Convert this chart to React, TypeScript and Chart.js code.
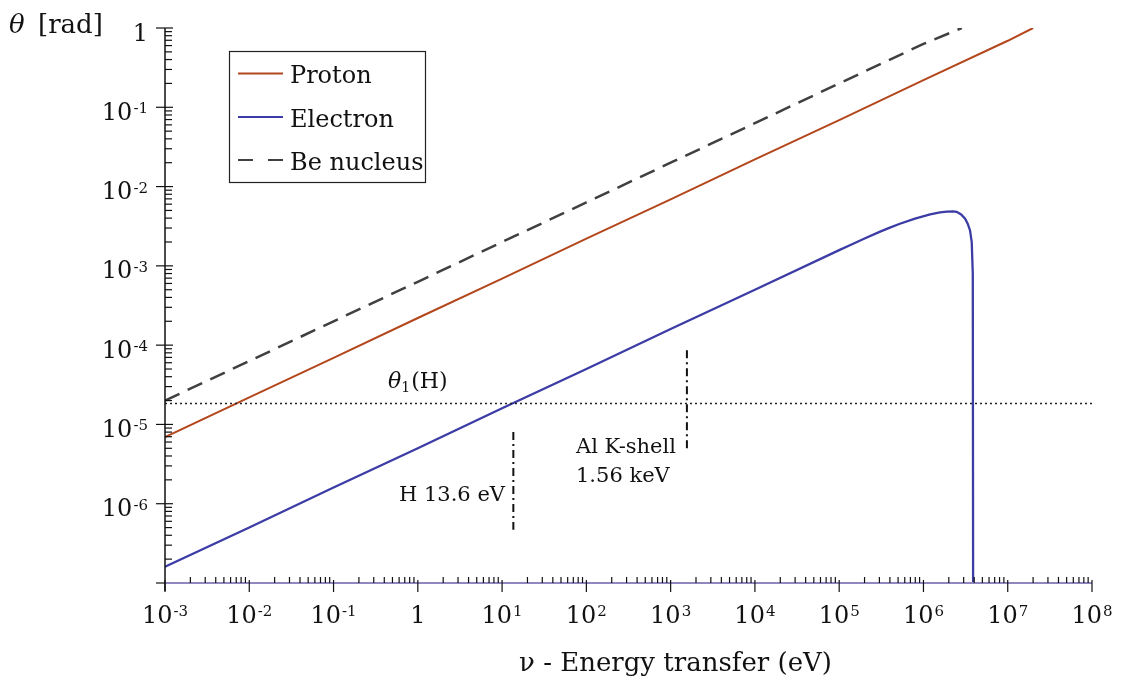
import React, { useEffect, useRef } from "react";
import { Chart, registerables } from "chart.js";

Chart.register(...registerables);

// ---- data ----
const protonX = [1e-3, 1e-2, 1e-1, 1, 10, 100, 1e3, 1e4, 1e5, 1e6, 1e7, 2e7];
const protonY = [6.9e-6, 2.2e-5, 6.9e-5, 2.2e-4, 6.9e-4, 2.2e-3, 6.9e-3, 2.2e-2, 6.9e-2, 0.22, 0.69, 1.0];

const electronX = [1e-3, 1e-2, 1e-1, 1, 10, 100, 1e3, 1e4, 1e5, 1.34e5, 2.0e5, 3.06e5, 4.0e5, 5.25e5, 7.94e5, 1.2e6, 1.57e6, 1.9e6, 2.24e6, 2.48e6, 2.8e6, 3.12e6, 3.35e6, 3.57e6, 3.74e6, 3.85e6, 3.9e6];
const electronY = [1.6e-7, 5.0e-7, 1.6e-6, 5.0e-6, 1.6e-5, 5.0e-5, 1.6e-4, 5.0e-4, 1.58e-3, 1.82e-3, 2.21e-3, 2.7e-3, 3.04e-3, 3.4e-3, 3.95e-3, 4.45e-3, 4.72e-3, 4.84e-3, 4.86e-3, 4.8e-3, 4.45e-3, 3.93e-3, 3.4e-3, 2.8e-3, 1.99e-3, 7.9e-4, 1e-9];

const beX = [1e-3, 1e-2, 1e-1, 1, 10, 100, 1e3, 1e4, 1e5, 1e6, 2.85e6];
const beY = [2.0e-5, 6.3e-5, 2.0e-4, 6.3e-4, 2.0e-3, 6.3e-3, 2.0e-2, 6.3e-2, 0.2, 0.63, 1.0];

const theta1H = 1.84e-5;
const xRange = [1e-3, 1e8];
const yRange = [1e-7, 1];

const hMarkX = [13.6, 13.6];
const hMarkY = [8e-6, 4.7e-7];
const alMarkX = [1560, 1560];
const alMarkY = [8.6e-5, 4.9e-6];

// tick labels
const xTickValues = [1e-3, 1e-2, 1e-1, 1, 10, 100, 1e3, 1e4, 1e5, 1e6, 1e7, 1e8];
const xTickLabels: [string, string][] = [
  ["10", "-3"], ["10", "-2"], ["10", "-1"], ["1", ""], ["10", "1"], ["10", "2"],
  ["10", "3"], ["10", "4"], ["10", "5"], ["10", "6"], ["10", "7"], ["10", "8"],
];
const yTickValues = [1e-7, 1e-6, 1e-5, 1e-4, 1e-3, 1e-2, 1e-1, 1];
const yTickLabels: [string, string][] = [
  ["", ""], ["10", "-6"], ["10", "-5"], ["10", "-4"], ["10", "-3"], ["10", "-2"], ["10", "-1"], ["1", ""],
];
const minorMultipliers = [2, 3, 4, 5, 6, 7, 8, 9];

const legendNames = ["Proton", "Electron", "Be nucleus"];
const COLORS = { proton: "#b4461c", electron: "#3c3ca6", be: "#404040" };

const FONT = '"DejaVu Serif", "Liberation Serif", serif';

function pts(xs: number[], ys: number[]) {
  return xs.map((x, i) => ({ x, y: ys[i] }));
}

function drawPow(ctx: CanvasRenderingContext2D, x: number, baseline: number, base: string, exp: string, align: string, size: number, supSize: number) {
  ctx.font = `${size}px ${FONT}`;
  const wb = ctx.measureText(base).width;
  ctx.font = `${supSize}px ${FONT}`;
  const we = exp ? ctx.measureText(exp).width + 1 : 0;
  const total = wb + we;
  const start = align === "right" ? x - total : x - total / 2;
  ctx.textAlign = "left";
  ctx.textBaseline = "alphabetic";
  ctx.font = `${size}px ${FONT}`;
  ctx.fillText(base, start, baseline);
  if (exp) {
    ctx.font = `${supSize}px ${FONT}`;
    ctx.fillText(exp, start + wb + 1, baseline - 0.729 * (size - supSize));
  }
}

const decorPlugin = {
  id: "decor",
  afterDraw(chart: any) {
    const ctx: CanvasRenderingContext2D = chart.ctx;
    const xs = chart.scales.x;
    const ys = chart.scales.y;
    const ca = chart.chartArea;
    ctx.save();
    ctx.fillStyle = "#111";
    ctx.strokeStyle = "#111";

    // x axis line (purple)
    ctx.lineWidth = 2;
    ctx.strokeStyle = "#9286c0";
    ctx.beginPath();
    ctx.moveTo(ca.left, ca.bottom);
    ctx.lineTo(ca.right, ca.bottom);
    ctx.stroke();

    // y axis line
    ctx.strokeStyle = "#111";
    ctx.lineWidth = 1.5;
    ctx.beginPath();
    ctx.moveTo(ca.left, ca.top);
    ctx.lineTo(ca.left, ca.bottom + 8);
    ctx.stroke();

    // y ticks
    ctx.lineWidth = 1.2;
    yTickValues.forEach((v, i) => {
      const py = ys.getPixelForValue(v);
      ctx.beginPath();
      ctx.moveTo(ca.left - 9, py);
      ctx.lineTo(ca.left + (i === 0 ? 0 : 8), py);
      ctx.stroke();
      if (i < yTickValues.length - 1) {
        minorMultipliers.forEach((m) => {
          const my = ys.getPixelForValue(v * m);
          ctx.beginPath();
          ctx.moveTo(ca.left, my);
          ctx.lineTo(ca.left + 7, my);
          ctx.stroke();
        });
      }
    });

    // x ticks
    xTickValues.forEach((v, i) => {
      const px = xs.getPixelForValue(v);
      ctx.beginPath();
      ctx.moveTo(px, ca.bottom - 3);
      ctx.lineTo(px, ca.bottom + 9);
      ctx.stroke();
      if (i < xTickValues.length - 1) {
        minorMultipliers.forEach((m) => {
          const mx = xs.getPixelForValue(v * m);
          ctx.beginPath();
          ctx.moveTo(mx, ca.bottom);
          ctx.lineTo(mx, ca.bottom - 6);
          ctx.stroke();
        });
      }
    });

    // tick labels
    ctx.fillStyle = "#111";
    xTickValues.forEach((v, i) => {
      const px = xs.getPixelForValue(v);
      const [b, e] = xTickLabels[i];
      drawPow(ctx, px, ca.bottom + 40, b, e, "center", 24, 15);
    });
    yTickValues.forEach((v, i) => {
      const py = ys.getPixelForValue(v);
      const [b, e] = yTickLabels[i];
      if (b) drawPow(ctx, ca.left - 17, py + 12.5, b, e, "right", 24, 15);
    });

    // axis titles
    ctx.textBaseline = "alphabetic";
    ctx.textAlign = "center";
    ctx.font = `26px ${FONT}`;
    ctx.fillText("ν - Energy transfer (eV)", (ca.left + ca.right) / 2 + 47, 671);
    ctx.textAlign = "left";
    ctx.font = `italic 26px ${FONT}`;
    ctx.fillText("θ", 9, 33);
    ctx.font = `26px ${FONT}`;
    ctx.fillText("[rad]", 38, 33);

    // annotations
    ctx.font = `italic 22px ${FONT}`;
    ctx.fillText("θ", 388, 388);
    const wt = ctx.measureText("θ").width;
    ctx.font = `14px ${FONT}`;
    ctx.fillText("1", 388 + wt, 392);
    const w1 = ctx.measureText("1").width;
    ctx.font = `22px ${FONT}`;
    ctx.fillText("(H)", 388 + wt + w1 + 1, 388);

    ctx.font = `21px ${FONT}`;
    ctx.textAlign = "right";
    ctx.fillText("H 13.6 eV", 505, 501);
    ctx.textAlign = "left";
    ctx.fillText("Al K-shell", 576, 453);
    ctx.fillText("1.56 keV", 576, 482);

    // legend
    ctx.lineWidth = 1.2;
    ctx.strokeStyle = "#222";
    ctx.strokeRect(229.5, 51.5, 196, 131);
    const ly = [73.5, 117, 160];
    const lc = [COLORS.proton, COLORS.electron, COLORS.be];
    legendNames.forEach((name, i) => {
      ctx.strokeStyle = lc[i];
      ctx.lineWidth = 2;
      ctx.setLineDash(i === 2 ? [15, 15] : []);
      ctx.beginPath();
      ctx.moveTo(238, ly[i]);
      ctx.lineTo(283, ly[i]);
      ctx.stroke();
      ctx.setLineDash([]);
      ctx.fillStyle = "#111";
      ctx.font = `24px ${FONT}`;
      ctx.textAlign = "left";
      ctx.fillText(name, 290, ly[i] + 9.5);
    });
    ctx.restore();
  },
};

export default function App() {
  const ref = useRef<HTMLCanvasElement | null>(null);
  useEffect(() => {
    if (!ref.current) return;
    const chart = new Chart(ref.current, {
      type: "line",
      data: {
        datasets: [
          { label: "θ1(H)", data: pts(xRange, [theta1H, theta1H]), borderColor: "#222", borderWidth: 1.6, borderDash: [2, 3], pointRadius: 0 },
          { label: "H 13.6 eV", data: pts(hMarkX, hMarkY), borderColor: "#111", borderWidth: 2, borderDash: [8, 4, 2, 4], pointRadius: 0 },
          { label: "Al K-shell", data: pts(alMarkX, alMarkY), borderColor: "#111", borderWidth: 2, borderDash: [8, 4, 2, 4], pointRadius: 0 },
          { label: "Be nucleus", data: pts(beX, beY), borderColor: COLORS.be, borderWidth: 2.5, borderDash: [16, 9], pointRadius: 0 },
          { label: "Proton", data: pts(protonX, protonY), borderColor: COLORS.proton, borderWidth: 2, pointRadius: 0 },
          { label: "Electron", data: pts(electronX, electronY), borderColor: COLORS.electron, borderWidth: 2.3, pointRadius: 0, tension: 0 },
        ],
      },
      options: {
        animation: false,
        responsive: false,
        maintainAspectRatio: false,
        devicePixelRatio: 1,
        layout: { padding: { left: 165, right: 34, top: 28, bottom: 96 } },
        plugins: { legend: { display: false }, tooltip: { enabled: false } },
        scales: {
          x: { type: "logarithmic", min: xRange[0], max: xRange[1], display: false },
          y: { type: "logarithmic", min: yRange[0], max: yRange[1], display: false },
        },
      },
      plugins: [decorPlugin],
    } as any);
    return () => chart.destroy();
  }, []);
  return (
    <div style={{ position: "absolute", left: 0, top: 0, width: 1126, height: 679, background: "#fff" }}>
      <canvas ref={ref} width={1126} height={679} style={{ width: 1126, height: 679 }} />
    </div>
  );
}
